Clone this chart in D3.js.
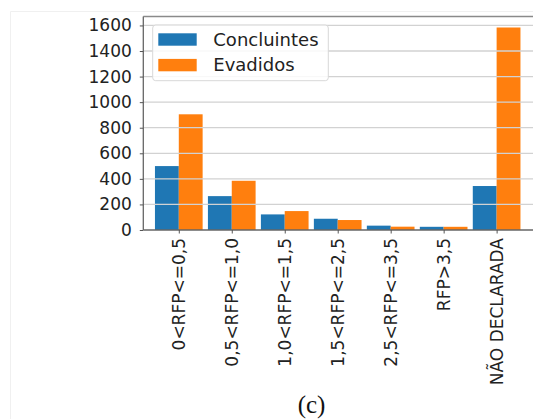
<!DOCTYPE html>
<html>
<head>
<meta charset="utf-8">
<script src="https://cdn.jsdelivr.net/npm/d3@7"></script>
<style>
  body { margin: 0; background: #fff; }
  svg { display: block; }
</style>
</head>
<body>
<div class="chart"></div>
<script>
// Data
const categories = ["0<RFP<=0,5", "0,5<RFP<=1,0", "1,0<RFP<=1,5", "1,5<RFP<=2,5", "2,5<RFP<=3,5", "RFP>3,5", "NÃO DECLARADA"]
const concluintes = [500, 265, 122, 88, 34, 25, 344]
const evadidos = [905, 385, 148, 78, 26, 25, 1584]
const seriesNames = ["Concluintes", "Evadidos"]
const yTicks = [0, 200, 400, 600, 800, 1000, 1200, 1400, 1600]

const width = 533
const height = 419
const colors = ["#1f77b4", "#ff7f0e"]
const barW = 0.45

const svg = d3.select(".chart").append("svg")
    .attr("width", width)
    .attr("height", height)
    .attr("viewBox", [0, 0, width, height])

// faint page border of the scanned figure
svg.append("path")
    .attr("d", "M10.5,419V11.5H533")
    .attr("fill", "none")
    .attr("stroke", "#f0f0f0")
    .attr("stroke-width", 1)

// axes area
const axLeft = 143.3, axTop = 16.5, axBottom = 230
const x = d3.scaleLinear().domain([-0.67, 6.8]).range([axLeft, 539])
const y = d3.scaleLinear().domain([0, 1670]).range([axBottom, axTop])

const rows = categories.map((c, i) => ({ i, c, v: [concluintes[i], evadidos[i]] }))

// bars
const bars = svg.append("g")
rows.forEach(r => {
    r.v.forEach((v, s) => {
        const x0 = s === 0 ? r.i - barW : r.i
        bars.append("rect")
            .attr("x", x(x0))
            .attr("y", y(v))
            .attr("width", x(x0 + barW) - x(x0))
            .attr("height", y(0) - y(v))
            .attr("fill", colors[s])
    })
})

// grid, drawn over bars
svg.append("g")
    .selectAll("line")
    .data(yTicks.filter(t => t > 0))
    .join("line")
        .attr("x1", axLeft)
        .attr("x2", width)
        .attr("y1", d => y(d))
        .attr("y2", d => y(d))
        .attr("stroke", "#d2d2d2")
        .attr("stroke-width", 1.3)

// spines
svg.append("line")
    .attr("x1", axLeft).attr("x2", width)
    .attr("y1", axTop).attr("y2", axTop)
    .attr("stroke", "#8a8a8a").attr("stroke-width", 1.5)
svg.append("line")
    .attr("x1", axLeft).attr("x2", width)
    .attr("y1", axBottom).attr("y2", axBottom)
    .attr("stroke", "#666").attr("stroke-width", 1.3)
svg.append("line")
    .attr("x1", axLeft).attr("x2", axLeft)
    .attr("y1", axTop).attr("y2", axBottom)
    .attr("stroke", "#666").attr("stroke-width", 1.3)

// y axis
const yAxis = svg.append("g")
    .attr("transform", `translate(${axLeft},0)`)
    .call(d3.axisLeft(y).tickValues(yTicks).tickFormat(d3.format("d")).tickSize(3.5).tickPadding(8))
yAxis.select(".domain").remove()
yAxis.selectAll(".tick line").attr("stroke", "#555")
yAxis.selectAll("text")
    .attr("font-family", "DejaVu Sans")
    .attr("font-size", 17)
    .attr("fill", "#222")

// x axis
const xAxis = svg.append("g")
    .attr("transform", `translate(0,${axBottom})`)
    .call(d3.axisBottom(x).tickValues(d3.range(categories.length)).tickSize(3.5).tickFormat(i => categories[i]))
xAxis.select(".domain").remove()
xAxis.selectAll(".tick line").attr("stroke", "#555")
xAxis.selectAll("text")
    .attr("font-family", "DejaVu Sans")
    .attr("font-size", 17)
    .attr("fill", "#222")
    .attr("text-anchor", "end")
    .attr("transform", "rotate(-90)")
    .attr("x", -8)
    .attr("y", 0)
    .attr("dy", "0.35em")

// legend
const legend = svg.append("g")
legend.append("rect")
    .attr("x", 152.7).attr("y", 25)
    .attr("width", 175.6).attr("height", 55.7)
    .attr("rx", 3)
    .attr("fill", "#fff").attr("fill-opacity", 0.85)
    .attr("stroke", "#d8d8d8")
seriesNames.forEach((name, s) => {
    legend.append("rect")
        .attr("x", 158.3).attr("y", 33.3 + s * 25.6)
        .attr("width", 38.4).attr("height", 12.4)
        .attr("fill", colors[s])
    legend.append("text")
        .attr("x", 213.3).attr("y", 39.5 + s * 25.6)
        .attr("dy", "0.35em")
        .attr("font-family", "DejaVu Sans")
        .attr("font-size", 18)
        .attr("fill", "#222")
        .text(name)
})

// caption
svg.append("text")
    .attr("x", 311.5).attr("y", 413)
    .attr("text-anchor", "middle")
    .attr("font-family", "Liberation Serif")
    .attr("font-size", 25)
    .attr("fill", "#111")
    .text("(c)")
</script>
</body>
</html>
